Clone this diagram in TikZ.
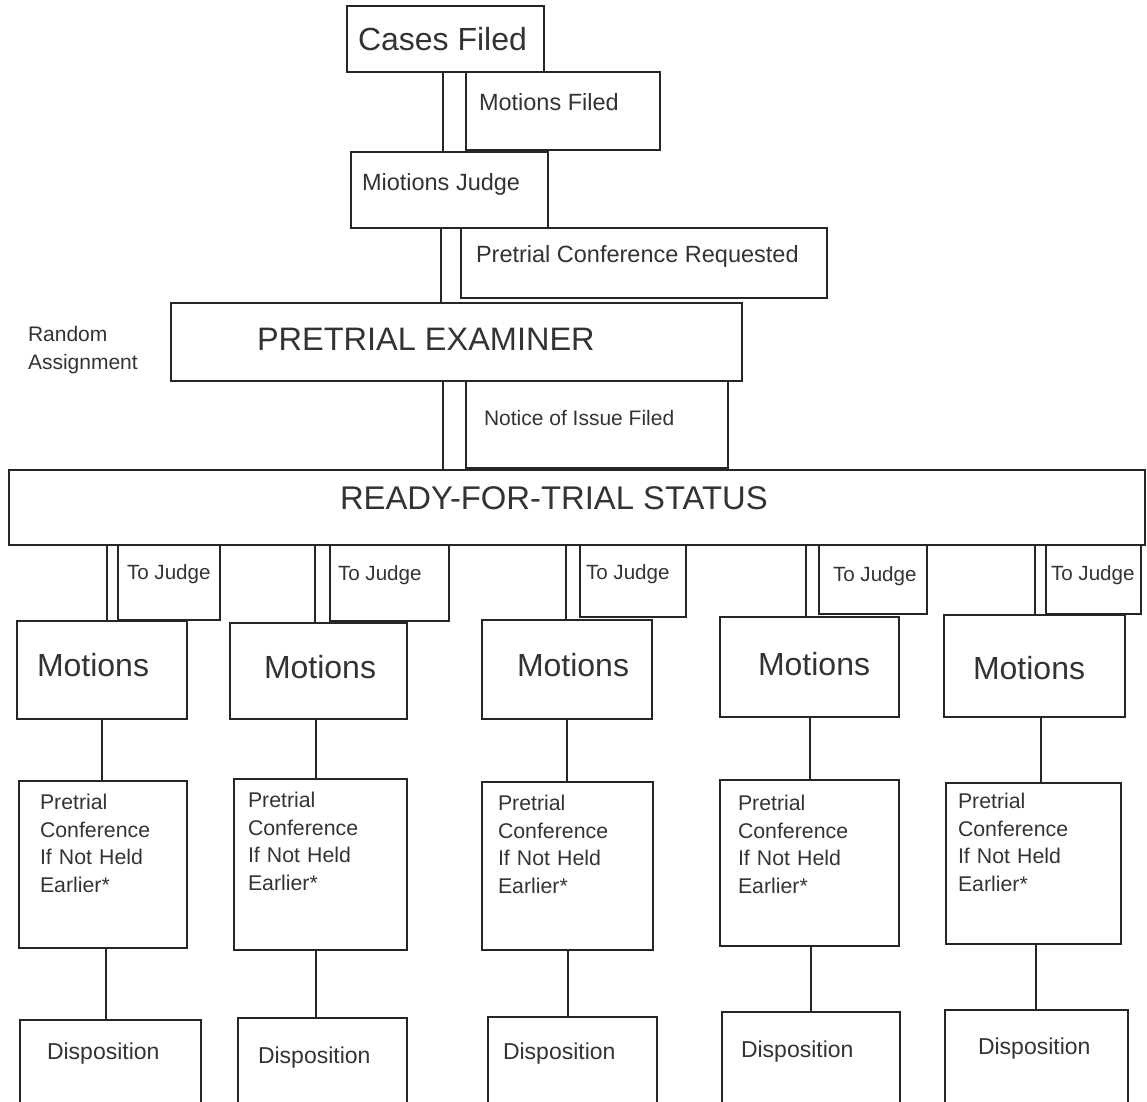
\documentclass[tikz,border=0pt]{standalone}
\usepackage{fontspec}
\setmainfont{Liberation Sans}
\tikzset{
  box/.style={draw=black!85, line width=1.5pt, inner sep=0pt, outer sep=0pt},
  conn/.style={draw=black!85, line width=1.5pt},
  txt/.style={inner sep=0pt, outer sep=0pt, anchor=base west, text=black!80},
  big/.style={txt, font=\fontsize{32}{38}\selectfont},
  mid/.style={txt, font=\fontsize{23.5}{28}\selectfont},
  sml/.style={txt, font=\fontsize{21}{27.5}\selectfont},
}
\newcommand\bx[5]{\node[box, minimum width={(#4)-(#2)}, minimum height={(#5)-(#3)}] (#1) at ({((#2)+(#4))/2},{((#3)+(#5))/2}) {};}
\begin{document}
\begin{tikzpicture}[x=1pt,y=-1pt]
\useasboundingbox (0,0) rectangle (1147,1101);
\clip (0,0) rectangle (1147,1101);
% top chain
\bx{cases}{347}{6}{544}{72}
\node[big] (cases-t) at (358,50) {Cases Filed};
\bx{mf}{466}{72}{660}{150}
\node[mid] (mf-t) at (479,110) {Motions Filed};
\bx{mj}{351}{152}{548}{228}
\node[mid] (mj-t) at (362,190) {Miotions Judge};
\bx{pcr}{461}{228}{827}{298}
\node[mid] (pcr-t) at (476,262) {Pretrial Conference Requested};
\bx{pe}{171}{303}{742}{381}
\node[big, font=\fontsize{32.5}{38}\selectfont] (pe-t) at (257,350) {PRETRIAL EXAMINER};
\node[sml] (ra1) at (28,341) {Random};
\node[sml] (ra2) at (28,369) {Assignment};
\bx{nif}{466}{381}{728}{468}
\node[sml] (nif-t) at (484,425.5) {Notice of Issue Filed};
\bx{rts}{9}{470}{1145}{545}
\node[big, font=\fontsize{32.8}{38}\selectfont] (rts-t) at (340,509) {READY-FOR-TRIAL STATUS};
\draw[conn] (cases.south -| 443,0) -- (mj.north -| 443,0);
\draw[conn] (mj.south -| 441,0) -- (pe.north -| 441,0);
\draw[conn] (pe.south -| 443,0) -- (rts.north -| 443,0);
% columns
\bx{tj1}{118}{545}{220}{620}
\bx{tj2}{330}{545}{449}{621}
\bx{tj3}{580}{545}{686}{617}
\bx{tj4}{819}{545}{927}{614}
\bx{tj5}{1046}{545}{1141}{614}
\node[sml, font=\fontsize{20.6}{25}\selectfont] (tj1-t) at (127,579) {To Judge};
\node[sml, font=\fontsize{20.6}{25}\selectfont] (tj2-t) at (338,580) {To Judge};
\node[sml, font=\fontsize{20.6}{25}\selectfont] (tj3-t) at (586,579) {To Judge};
\node[sml, font=\fontsize{20.6}{25}\selectfont] (tj4-t) at (833,581) {To Judge};
\node[sml, font=\fontsize{20.6}{25}\selectfont] (tj5-t) at (1051,580) {To Judge};
\bx{m1}{17}{621}{187}{719}
\bx{m2}{230}{623}{407}{719}
\bx{m3}{482}{620}{652}{719}
\bx{m4}{720}{617}{899}{717}
\bx{m5}{944}{615}{1125}{717}
\node[big] (m1-t) at (37,676.5) {Motions};
\node[big] (m2-t) at (264,678.5) {Motions};
\node[big] (m3-t) at (517,676.5) {Motions};
\node[big] (m4-t) at (758,675.5) {Motions};
\node[big] (m5-t) at (973,679.5) {Motions};
\bx{p1}{19}{781}{187}{948}
\bx{p2}{234}{779}{407}{950}
\bx{p3}{482}{782}{653}{950}
\bx{p4}{720}{780}{899}{946}
\bx{p5}{946}{783}{1121}{944}
\node[sml, font=\fontsize{21.3}{27.5}\selectfont, text width=140pt, align=left] (p1-t) at (40,809.5) {Pretrial\\Conference\\If Not Held\\Earlier*};
\node[sml, font=\fontsize{21.3}{27.5}\selectfont, text width=140pt, align=left] (p2-t) at (248,807.5) {Pretrial\\Conference\\If Not Held\\Earlier*};
\node[sml, font=\fontsize{21.3}{27.5}\selectfont, text width=140pt, align=left] (p3-t) at (498,810.5) {Pretrial\\Conference\\If Not Held\\Earlier*};
\node[sml, font=\fontsize{21.3}{27.5}\selectfont, text width=140pt, align=left] (p4-t) at (738,810.5) {Pretrial\\Conference\\If Not Held\\Earlier*};
\node[sml, font=\fontsize{21.3}{27.5}\selectfont, text width=140pt, align=left] (p5-t) at (958,808.5) {Pretrial\\Conference\\If Not Held\\Earlier*};
\bx{d1}{20}{1020}{201}{1115}
\bx{d2}{238}{1018}{407}{1115}
\bx{d3}{488}{1017}{657}{1115}
\bx{d4}{722}{1012}{900}{1115}
\bx{d5}{945}{1010}{1128}{1115}
\node[mid, font=\fontsize{23}{28}\selectfont] (d1-t) at (47,1059) {Disposition};
\node[mid, font=\fontsize{23}{28}\selectfont] (d2-t) at (258,1063) {Disposition};
\node[mid, font=\fontsize{23}{28}\selectfont] (d3-t) at (503,1059) {Disposition};
\node[mid, font=\fontsize{23}{28}\selectfont] (d4-t) at (741,1057) {Disposition};
\node[mid, font=\fontsize{23}{28}\selectfont] (d5-t) at (978,1054) {Disposition};
% connectors
\draw[conn] (rts.south -| 107,0) -- (m1.north -| 107,0);
\draw[conn] (rts.south -| 315,0) -- (m2.north -| 315,0);
\draw[conn] (rts.south -| 566,0) -- (m3.north -| 566,0);
\draw[conn] (rts.south -| 806,0) -- (m4.north -| 806,0);
\draw[conn] (rts.south -| 1035,0) -- (m5.north -| 1035,0);
\draw[conn] (m1.south -| 102,0) -- (p1.north -| 102,0);
\draw[conn] (m2.south -| 316,0) -- (p2.north -| 316,0);
\draw[conn] (m3.south -| 567,0) -- (p3.north -| 567,0);
\draw[conn] (m4.south -| 810,0) -- (p4.north -| 810,0);
\draw[conn] (m5.south -| 1041,0) -- (p5.north -| 1041,0);
\draw[conn] (p1.south -| 106,0) -- (d1.north -| 106,0);
\draw[conn] (p2.south -| 316,0) -- (d2.north -| 316,0);
\draw[conn] (p3.south -| 568,0) -- (d3.north -| 568,0);
\draw[conn] (p4.south -| 811,0) -- (d4.north -| 811,0);
\draw[conn] (p5.south -| 1036,0) -- (d5.north -| 1036,0);
\end{tikzpicture}
\end{document}
